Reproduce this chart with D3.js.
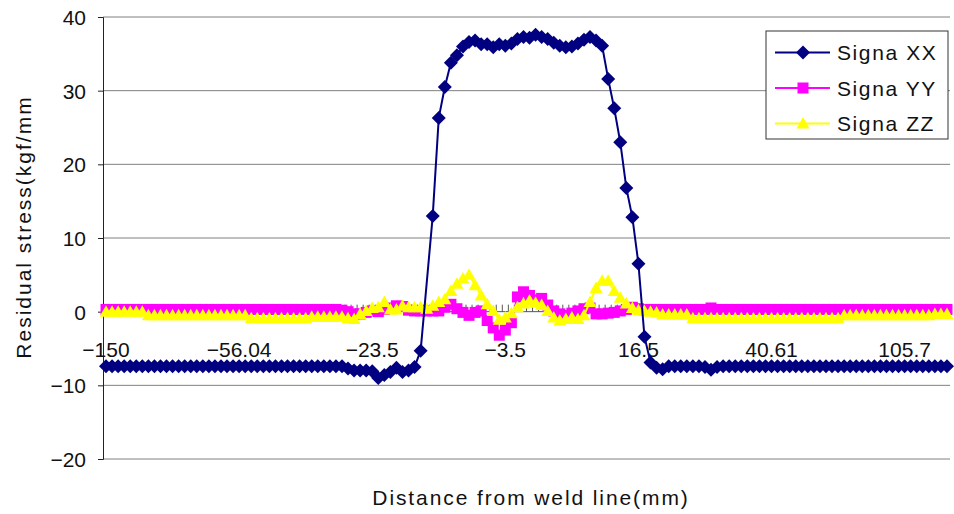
<!DOCTYPE html>
<html><head><meta charset="utf-8">
<script src="https://cdn.jsdelivr.net/npm/d3@7"></script>
<style>body{margin:0;background:#fff}svg text{font-family:"Liberation Sans",Arial,sans-serif;fill:#111}</style>
</head><body><svg id="c" width="954" height="514"></svg>
<script>
const seriesNames = ["Signa XX", "Signa YY", "Signa ZZ"];
const sigmaXX = [
-7.4,-7.4,-7.4,-7.4,-7.4,-7.4,-7.4,-7.4,-7.4,-7.4,
-7.4,-7.4,-7.4,-7.4,-7.4,-7.4,-7.4,-7.4,-7.4,-7.4,
-7.4,-7.4,-7.4,-7.4,-7.4,-7.4,-7.4,-7.4,-7.4,-7.4,
-7.4,-7.4,-7.4,-7.4,-7.4,-7.4,-7.4,-7.4,-7.4,-7.4,
-7.7,-8.0,-8.0,-8.0,-8.1,-9.0,-8.6,-8.2,-7.6,-8.2,
-8.0,-7.5,-5.3,null,13.0,26.3,30.5,33.8,34.8,36.0,
36.6,36.8,36.3,36.3,35.9,36.3,36.1,36.4,37.0,37.3,
37.2,37.6,37.3,37.0,36.5,36.1,35.9,36.0,36.4,36.9,
37.3,36.8,36.1,31.6,27.6,23.0,16.8,12.8,6.5,-3.4,
-6.9,-7.6,-7.8,-7.4,-7.4,-7.4,-7.4,-7.4,-7.4,-7.5,
-7.9,-7.5,-7.4,-7.4,-7.4,-7.4,-7.4,-7.4,-7.4,-7.4,
-7.4,-7.4,-7.4,-7.4,-7.4,-7.4,-7.4,-7.4,-7.4,-7.4,
-7.4,-7.4,-7.4,-7.4,-7.4,-7.4,-7.4,-7.4,-7.4,-7.4,
-7.4,-7.4,-7.4,-7.4,-7.4,-7.4,-7.4,-7.4,-7.4,-7.4];
const sigmaYY = [
0.3,0.3,0.3,0.3,0.3,0.3,0.3,0.3,0.3,0.3,
0.3,0.3,0.3,0.3,0.3,0.3,0.3,0.3,0.3,0.3,
0.3,0.3,0.3,0.3,0.3,0.3,0.3,0.3,0.3,0.3,
0.3,0.3,0.3,0.3,0.3,0.3,0.3,0.3,0.3,0.2,
0.0,-0.3,-0.3,-0.1,0.1,0.0,0.3,0.5,0.8,0.7,
0.2,0.1,0.1,0.1,0.1,0.1,0.6,1.0,0.4,-0.1,
-0.5,-0.1,0.1,-1.2,-2.2,-3.2,-2.5,-1.5,2.0,2.7,
2.2,1.6,1.8,0.9,0.1,-0.3,-0.5,-0.2,0.1,0.4,
0.5,-0.3,-0.3,-0.2,-0.1,0.1,0.3,0.6,0.4,0.3,
0.3,0.3,0.3,0.3,0.3,0.3,0.3,0.3,0.3,0.3,
0.5,0.3,0.3,0.3,0.3,0.3,0.3,0.3,0.3,0.3,
0.3,0.3,0.3,0.3,0.3,0.3,0.3,0.3,0.3,0.3,
0.3,0.3,0.3,0.3,0.3,0.3,0.3,0.3,0.3,0.3,
0.3,0.3,0.3,0.3,0.3,0.3,0.3,0.3,0.3,0.3];
const sigmaZZ = [
0.0,0.0,0.0,0.0,0.0,0.0,0.0,-0.5,-0.5,-0.5,
-0.5,-0.5,-0.5,-0.5,-0.5,-0.5,-0.5,-0.5,-0.5,-0.5,
-0.5,-0.5,-0.5,-0.5,-0.9,-0.9,-0.9,-0.9,-0.9,-0.9,
-0.9,-0.9,-0.9,-0.9,-0.7,-0.7,-0.7,-0.7,-0.7,-0.7,
-0.9,-1.0,-0.3,0.1,0.5,0.6,1.3,0.3,0.3,0.8,
0.6,0.6,0.6,0.4,0.8,1.3,1.7,2.8,3.8,4.5,
5.0,3.6,2.2,1.0,0.1,-1.1,-0.8,-0.2,0.6,1.1,
1.5,1.2,0.9,0.1,-0.8,-1.2,-1.0,-0.8,-1.0,-0.5,
1.3,3.2,4.2,4.2,2.8,1.9,1.1,0.5,0.2,0.1,
0.0,-0.1,-0.4,-0.4,-0.4,-0.4,-0.4,-0.9,-0.9,-0.9,
-0.9,-0.9,-0.9,-0.9,-0.9,-0.9,-0.9,-0.9,-0.9,-0.9,
-0.9,-0.9,-0.9,-0.9,-0.9,-0.9,-0.9,-0.9,-0.9,-0.9,
-0.9,-0.9,-0.5,-0.5,-0.5,-0.5,-0.5,-0.5,-0.5,-0.5,
-0.5,-0.5,-0.5,-0.5,-0.5,-0.5,-0.5,-0.3,-0.3,-0.3];
const xTickLabels = ["\u2212150", "\u221256.04", "\u221223.5", "\u22123.5", "16.5", "40.61", "105.7"];
const xLabelEvery = 22;
const yTicks = [-20, -10, 0, 10, 20, 30, 40];
const xTitle = "Distance from weld line(mm)";
const yTitle = "Residual stress(kgf/mm";
const colors = ["#000080", "#ff00ff", "#ffff00"];
const shapes = ["diamond", "square", "triangle"];

const svg = d3.select("#c");
const L = 103, R = 950, T = 17, B = 459;
const categories = d3.range(sigmaXX.length);
const x = d3.scaleBand().domain(categories).range([L, R]);
const cx = i => x(i) + x.bandwidth() / 2;
const y = d3.scaleLinear().domain([-20, 40]).range([B, T]);

// gridlines
svg.append("g").selectAll("line").data(yTicks).join("line")
  .attr("x1", L).attr("x2", R).attr("y1", d => y(d)).attr("y2", d => y(d))
  .attr("stroke", d => d === 0 ? "none" : "#808080").attr("stroke-width", 1);

// y axis
const yAxis = d3.axisLeft(y).tickValues(yTicks).tickSize(5).tickFormat(d => d < 0 ? "\u2212" + Math.abs(d) : d);
const gy = svg.append("g").attr("transform", `translate(${L},0)`).call(yAxis);
gy.select(".domain").attr("stroke", "#222");
gy.selectAll(".tick line").attr("stroke", "#222");
gy.selectAll(".tick text").attr("x", -17).attr("dy", "0.35em").style("font-size", "21px").attr("fill", "#111");

// x axis at zero
const gx = svg.append("g");
gx.append("line").attr("x1", L).attr("x2", R).attr("y1", y(0)).attr("y2", y(0)).attr("stroke", "#555");
gx.selectAll("line.t").data(d3.range(categories.length + 1)).join("line").attr("class", "t")
  .attr("x1", i => L + i * x.step()).attr("x2", i => L + i * x.step())
  .attr("y1", y(0)).attr("y2", y(0) - 7).attr("stroke", "#555");
gx.selectAll("text").data(xTickLabels).join("text")
  .attr("x", (d, k) => cx(k * xLabelEvery)).attr("y", 357)
  .attr("text-anchor", "middle").style("font-size", "21px").text(d => d);

// series
const seriesData = [sigmaXX, sigmaYY, sigmaZZ];
function marker(shape) {
  if (shape === "diamond") return "M0,-7L7,0L0,7L-7,0Z";
  if (shape === "square") return "M-5.5,-5.5H5.5V5.5H-5.5Z";
  return "M0,-6.5L6.5,5L-6.5,5Z";
}
const order = [1, 2, 0];
const line = d3.line().x(d => cx(d.i)).y(d => y(d.v));
order.forEach(s => {
  const pts = seriesData[s].map((v, i) => ({i, v})).filter(d => d.v !== null);
  const g = svg.append("g");
  g.append("path").datum(pts).attr("d", line).attr("fill", "none")
    .attr("stroke", colors[s]).attr("stroke-width", 2);
  g.selectAll("path.m").data(pts).join("path").attr("class", "m")
    .attr("transform", d => `translate(${cx(d.i)},${y(d.v)})`)
    .attr("d", marker(shapes[s])).attr("fill", colors[s]);
});

// titles
svg.append("text").attr("x", 531).attr("y", 505).attr("text-anchor", "middle")
  .style("font-size", "21px").style("letter-spacing", "1.9px").text(xTitle);
svg.append("text").attr("transform", "translate(31,227) rotate(-90)").attr("text-anchor", "middle")
  .style("font-size", "21px").style("letter-spacing", "2px").text(yTitle);

// legend
const lg = svg.append("g");
lg.append("rect").attr("x", 766).attr("y", 31).attr("width", 182).attr("height", 108)
  .attr("fill", "#fff").attr("stroke", "#333");
seriesNames.forEach((n, s) => {
  const yy = 52.5 + s * 35.5;
  lg.append("line").attr("x1", 775).attr("x2", 830).attr("y1", yy).attr("y2", yy)
    .attr("stroke", colors[s]).attr("stroke-width", 2);
  lg.append("path").attr("transform", `translate(803,${yy})`).attr("d", marker(shapes[s])).attr("fill", colors[s]);
  lg.append("text").attr("x", 837).attr("y", yy + 7.5).style("font-size", "21px")
    .style("letter-spacing", "1.6px").text(n);
});
</script></body></html>
